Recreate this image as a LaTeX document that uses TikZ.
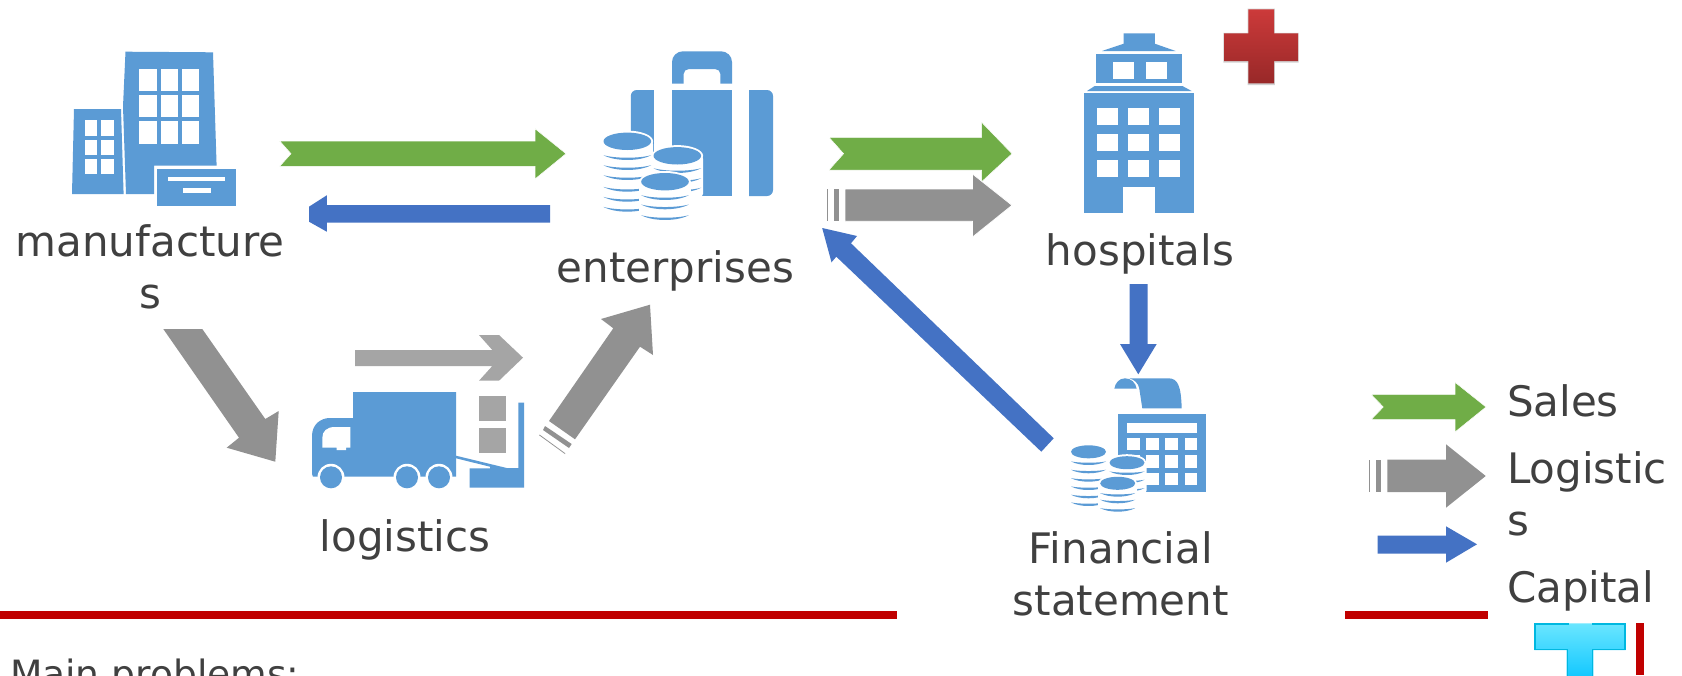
\documentclass[tikz,border=0pt]{standalone}
\usepackage{fontspec}
\setmainfont{DejaVu Sans}
\definecolor{icon}{HTML}{5B9BD5}
\definecolor{flowgreen}{HTML}{70AD47}
\definecolor{flowblue}{HTML}{4472C4}
\definecolor{flowgray}{HTML}{919191}
\definecolor{lightgray2}{HTML}{A5A5A5}
\definecolor{txt}{HTML}{404040}
\definecolor{redline}{HTML}{C00000}
\definecolor{crosstop}{HTML}{CC3A3A}
\definecolor{crossbot}{HTML}{982828}
\definecolor{cyantop}{HTML}{6AE6FF}
\definecolor{cyanbot}{HTML}{0EC6FF}
\definecolor{cyanline}{HTML}{00B8E0}
\tikzset{
  iconfill/.style={fill=icon,draw=none},
  hole/.style={fill=white,draw=none},
  greenflow/.style={fill=flowgreen,draw=white,line width=.5pt},
  blueflow/.style={fill=flowblue,draw=none},
  grayflow/.style={fill=flowgray,draw=white,line width=.7pt},
  palegray/.style={fill=lightgray2,draw=none},
  redrule/.style={fill=redline,draw=none},
  txtlabel/.style={font=\fontsize{42}{51.8}\selectfont,text=txt,inner sep=0pt,outer sep=0pt,align=center,anchor=base},
  leglabel/.style={txtlabel,align=left,anchor=base west},
}
% cx, cy of top ellipse, rx, ry, list of arc bottoms, lowest arc
\newcommand{\coinstack}[6]{%
  \fill[white] (#1,#2) ellipse [x radius={#3+2}, y radius={#4+2}];
  \fill[white,rounded corners=3pt] ({#1-#3-2},#2) rectangle ({#1+#3+2},{#6+1.5});
  \fill[iconfill] (#1,#2) ellipse [x radius=#3, y radius=#4];
  \foreach \yy in {#5}{
    \fill[iconfill] ({#1-#3},{\yy-#4*.55}) .. controls ({#1-#3*.5},{\yy+#4*.18}) and ({#1+#3*.5},{\yy+#4*.18}) .. ({#1+#3},{\yy-#4*.55})
      .. controls ({#1+#3*.5},{\yy+#4*.18-3}) and ({#1-#3*.5},{\yy+#4*.18-3}) .. cycle;
  }
}
\begin{document}
\begin{tikzpicture}[x=1pt,y=-1pt]
\clip (0,0) rectangle (1682,675);
\fill[white] (0,0) rectangle (1682,675);

% ---------- manufactures icon
\fill[iconfill] (74,109)--(121,109)--(123.6,194)--(72,194)--cycle;
\foreach \xa/\xb in {84.6/97.2,101.4/114.4}
  \foreach \ya/\yb in {120.3/136,139.7/155,159/174.3}
    \fill[hole] (\xa,\ya) rectangle (\xb,\yb);
\fill[iconfill] (125.5,51.7)--(213,52.3)--(216.6,165.7)--(154,165.7)--(154,194)--(126,194)--(123,106.7)--cycle;
\foreach \xa/\xb in {139.3/157,160.7/178,181.8/199}
  \foreach \ya/\yb in {68.7/91,95/117.3,121.3/143.7}
    \fill[hole] (\xa,\ya) rectangle (\xb,\yb);
\fill[iconfill] (157,168.7) rectangle (235.7,206);
\fill[hole] (168.4,177) rectangle (224.6,181.3);
\fill[hole] (182.5,188.3) rectangle (210.5,192.7);

% ---------- manufacturer <-> enterprises
\fill[greenflow] (279.7,141)--(535,141)--(535,128.7)--(566,153.7)--(535,179)--(535,166.3)--(279.7,166.3)--(291,153.7)--cycle;
\fill[blueflow] (550,205)--(326.8,205)--(326.8,195.3)--(309,206.7)--(309,221.7)--(326.8,231.7)--(326.8,222.7)--(550,222.7)--cycle;

% ---------- enterprises icon
\fill[iconfill] (672,83.7)--(672,62) to[out=90,in=180] (683,51.3)--(721,51.3) to[out=0,in=90] (732,62)--(732,83.7)--(720.4,83.7)--(720.4,74) to[out=90,in=0] (715,69)--(689,69) to[out=180,in=90] (683.6,74)--(683.6,83.7)--cycle;
\fill[iconfill,rounded corners=6pt] (664,90)--(630.8,90)--(630.8,196)--(664,196)--cycle;
\fill[white] (654,85) rectangle (671.5,200);
\fill[iconfill] (671.5,90) rectangle (732,196);
\fill[iconfill,rounded corners=6pt] (739,90)--(773,90)--(773,196)--(739,196)--cycle;
\fill[white] (732,85) rectangle (749,200);
\coinstack{627.3}{141.3}{23.8}{8.7}{160,170,180,191.7,201.7,211.7}{211.7}
\coinstack{677.3}{155.8}{23.8}{8.7}{173,183,192.5}{195}
\coinstack{665}{181.7}{23.8}{8.7}{200,209.3,220}{220}

% ---------- enterprises -> hospitals
\fill[greenflow] (829,137.3)--(981.7,137.3)--(981.7,122.3)--(1012,153.7)--(981.7,181.7)--(981.7,170)--(829,170)--(843.6,153.7)--cycle;
\fill[grayflow] (845,189)--(972.5,189)--(972.5,174)--(1012,205.3)--(972.5,237)--(972.5,221.3)--(845,221.3)--cycle;
\fill[flowgray] (833.9,189) rectangle (839.2,221.3);
\fill[flowgray] (827,189) rectangle (828.2,221.3);

% ---------- hospital icon
\fill[iconfill] (1123.7,33.3)--(1154.8,33.3)--(1154.8,43.7)--(1175.6,51)--(1102,51)--(1123.7,43.7)--cycle;
\fill[iconfill] (1095.6,54) rectangle (1182.4,83.3);
\fill[hole] (1112.6,61.7) rectangle (1134,78.7);
\fill[hole] (1145.6,61.7) rectangle (1167,78.7);
\fill[iconfill] (1094.7,86)--(1182.4,86)--(1191.6,91)--(1087,91)--cycle;
\fill[iconfill] (1083.5,93.3) rectangle (1193.5,212.7);
\foreach \xa/\xb in {1097/1118,1128/1149,1159/1180}
  \foreach \ya/\yb in {108.3/125,134/151,160/177}
    \fill[hole] (\xa,\ya) rectangle (\xb,\yb);
\fill[hole] (1123.3,186.7) rectangle (1155.3,212.8);

% ---------- red cross
\fill[gray!35] (1247.5,8.5) rectangle (1274.8,85)  (1223.3,32.8) rectangle (1298.7,62.5);
\shade[top color=crosstop,bottom color=crossbot]
  (1248.3,9.3)--(1274,9.3)--(1274,33.3)--(1298,33.3)--(1298,61)--(1274,61)--(1274,83.3)--(1248.3,83.3)--(1248.3,61)--(1224,61)--(1224,33.3)--(1248.3,33.3)--cycle;

% ---------- hospital -> statement
\fill[blueflow] (1129.6,284)--(1147.5,284)--(1147.5,344)--(1156.7,344)--(1138.3,374.3)--(1120,344)--(1129.6,344)--cycle;

% ---------- statement -> enterprises
\fill[blueflow] (1053.7,438.3)--(851,243.3)--(857,236)--(822.2,228)--(831.5,262.3)--(836.3,256.7)--(1041.3,451.7)--cycle;

% ---------- financial icon
\fill[iconfill] (1114.3,388.7) to[out=80,in=180] (1125,378.3) to[out=0,in=100] (1136.7,388.7)--cycle;
\fill[iconfill] (1129.3,378.3)--(1168.3,378.3) .. controls (1178,378.3) and (1181,386) .. (1181.7,408.3)--(1142.3,408.3)--(1139.3,388.7) .. controls (1138.5,383) and (1134,379.5) .. (1129.3,378.3)--cycle;
\fill[iconfill] (1118.3,414) rectangle (1206,492);
\fill[hole] (1127.3,423) rectangle (1197,433.3);
\foreach \xa/\xb in {1127.3/1139.7,1146.3/1158.7,1165.3/1177.7,1184.7/1197}
  \foreach \ya/\yb in {438/450.3,455.3/467.7,472.7/485}
    \fill[hole] (\xa,\ya) rectangle (\xb,\yb);
\coinstack{1088.5}{451.8}{17.5}{6.5}{465,473.3,481.7,490,498.3,506}{506}
\coinstack{1127}{462.7}{17.5}{6.5}{475,483.3,491.7}{492}
\coinstack{1117.7}{483.3}{17.5}{6.5}{496.7,503.3,511.7}{512}

% ---------- manufacturer -> logistics
\fill[flowgray] (163.3,329)--(202.3,329)--(265.3,419)--(278.7,411)--(275.3,461.7)--(226.7,447.7)--(239,437.7)--cycle;

% ---------- logistics icon
\fill[palegray] (355,350)--(492.3,350)--(479,335)--(499,335)--(523,357.7)--(499,380.7)--(479,380.7)--(492.3,366)--(355,366)--cycle;
\fill[palegray] (479,395.7) rectangle (506,420.7);
\fill[palegray] (479,428) rectangle (506,453);
\fill[iconfill] (353,392)--(456,392)--(456,476.7)--(313,476.7)--(312,474)--(312,436) .. controls (312,425) and (320,418) .. (330,418)--(353,418)--cycle;
\fill[hole] (350.3,427)--(335,427) .. controls (327,427) and (322.3,431) .. (322.3,438)--(322.3,447.7)--(336.7,447.7)--(336.7,450)--(346,450)--(346,447.7)--(350.3,447.7)--cycle;
\foreach \wx in {331,407,439}{
  \fill[white] (\wx,477.3) circle [radius=13.5];
  \fill[white] ({\wx-16},480) rectangle ({\wx+16},492);
  \fill[iconfill] (\wx,477.3) circle [radius=11];
}
\fill[iconfill] (456,455.7)--(506.7,468)--(518.3,468)--(518.3,402.7)--(524,402.7)--(524,487.7)--(469.7,487.7)--(469.7,468.3)--(490,468.3)--(490,466.7)--(456,458.3)--cycle;

% ---------- logistics -> enterprises
\fill[flowgray] (549,421)--(575,439.3)--(640,346.7)--(653,355)--(650,304.7)--(601,319)--(613.3,328.3)--cycle;
\fill[flowgray] (545,426)--(571.7,444)--(569,448)--(543,430)--cycle;
\fill[flowgray] (539.6,434.6)--(565.3,453.3)--(565,454)--(539.2,435.3)--cycle;

% ---------- rules
\fill[redrule] (0,611.3) rectangle (897,619.3);
\fill[redrule] (1345,611.3) rectangle (1488,619.3);
\fill[redrule] (1636,623) rectangle (1643.7,675);

% ---------- cyan shape
\shade[top color=cyantop,bottom color=cyanbot]
  (1534.3,623.3) rectangle (1625.7,650) (1566.7,623.3) rectangle (1593.3,680);
\draw[draw=cyanline,line width=1.6pt]
  (1568.5,623.8)--(1535,623.8)--(1535,649.5)--(1567.5,649.5)--(1567.5,680)
  (1592.5,680)--(1592.5,649.5)--(1625,649.5)--(1625,623.8)--(1591.5,623.8);

% ---------- legend arrows
\fill[greenflow] (1371,394.3)--(1455,394.3)--(1455,382.3)--(1486,407)--(1455,432)--(1455,419.7)--(1371,419.7)--(1383.3,407)--cycle;
\fill[flowgray] (1387.3,459.7)--(1446,459.7)--(1446,444.3)--(1485.7,476)--(1446,507.7)--(1446,492)--(1387.3,492)--cycle;
\fill[flowgray] (1376.3,459.7) rectangle (1381.3,492);
\fill[flowgray] (1369,459.7) rectangle (1370.3,492);
\fill[blueflow] (1377.7,535.7)--(1446,535.7)--(1446,526.3)--(1477,544.3)--(1446,562.7)--(1446,553.7)--(1377.7,553.7)--cycle;

% ---------- labels
\node[txtlabel] (manuf) at (150,308.3) {manufacture\\s};
\node[txtlabel] (enter) at (675.5,282.7) {enterprises};
\node[txtlabel] (hosp) at (1140,265) {hospitals};
\node[txtlabel] (logi) at (405,551.7) {logistics};
\node[txtlabel] (fin) at (1120.8,615) {Financial\\statement};
\node[leglabel] (lsales) at (1507,416) {Sales};
\node[leglabel] (llog) at (1507,535) {Logistic\\s};
\node[leglabel] (lcap) at (1507,602.3) {Capital};
\node[txtlabel,font=\fontsize{37.6}{44}\selectfont,anchor=base west] (mainp) at (10,687.5) {Main problems:};
\end{tikzpicture}
\end{document}
